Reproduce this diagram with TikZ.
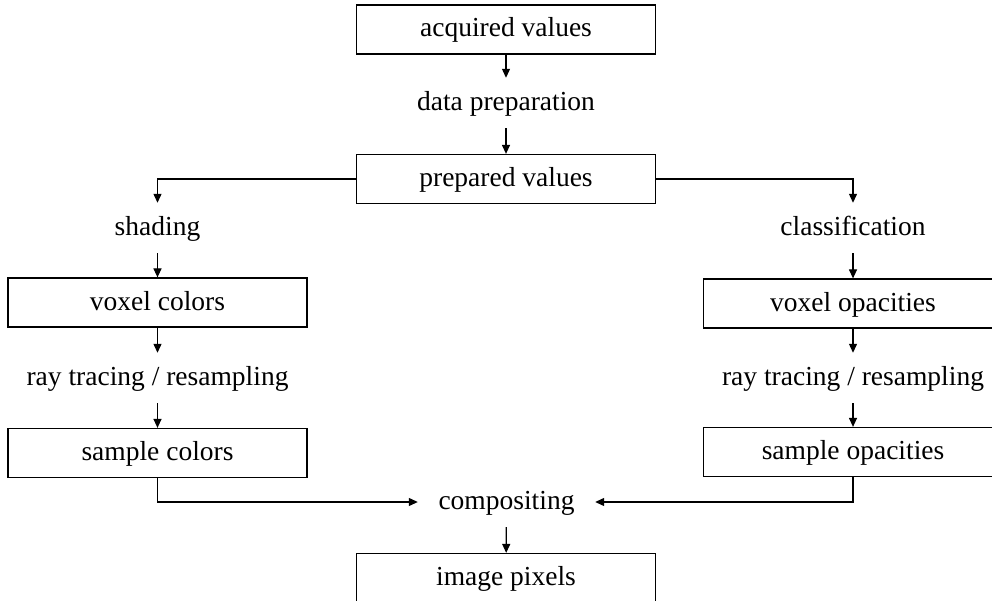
\documentclass[tikz,border=0pt]{standalone}
\usepackage{fontspec}
\setmainfont{Liberation Serif}
\usetikzlibrary{arrows.meta}
\begin{document}
\begin{tikzpicture}[x=1pt,y=-1pt,
  txt/.style={font=\fontsize{27.5}{30}\selectfont,text height=19.5pt,text depth=4.5pt},
  box/.style={txt,draw,line width=1.2pt,minimum width=299pt,minimum height=49pt,inner sep=0pt},
  lbl/.style={txt,minimum height=50pt,inner sep=0pt},
  arr/.style={line width=1.2pt,-{Triangle[length=9pt,width=8pt]}}]
\useasboundingbox (0,0) rectangle (992,601);
\clip (0,0) rectangle (992,601);
\node[box] (A) at (506,29.5) {acquired values};
\node[lbl] (dp) at (506,103) {data preparation};
\node[box] (B) at (506,179) {prepared values};
\node[lbl] (sh) at (157.5,228) {shading};
\node[lbl] (cl) at (853,228) {classification};
\node[box] (vc) at (157.5,302.5) {voxel colors};
\node[box] (vo) at (853,303.5) {voxel opacities};
\node[lbl] (rt1) at (157.5,378) {ray tracing / resampling};
\node[lbl] (rt2) at (853,378) {ray tracing / resampling};
\node[box] (sc) at (157.5,453) {sample colors};
\node[box] (so) at (853,452) {sample opacities};
\node[lbl,minimum width=177pt] (comp) at (506.5,502) {compositing};
\node[box] (ip) at (506,578) {image pixels};
\draw[arr] (A) -- (dp);
\draw[arr] (dp) -- (B);
\draw[arr] (B.west) -| (sh);
\draw[arr] (B.east) -| (cl);
\draw[arr] (sh) -- (vc);
\draw[arr] (cl) -- (vo);
\draw[arr] (vc) -- (rt1);
\draw[arr] (vo) -- (rt2);
\draw[arr] (rt1) -- (sc);
\draw[arr] (rt2) -- (so);
\draw[arr] (sc) |- (comp);
\draw[arr] (so) |- (comp);
\draw[arr] (comp) -- (ip);
\end{tikzpicture}
\end{document}
